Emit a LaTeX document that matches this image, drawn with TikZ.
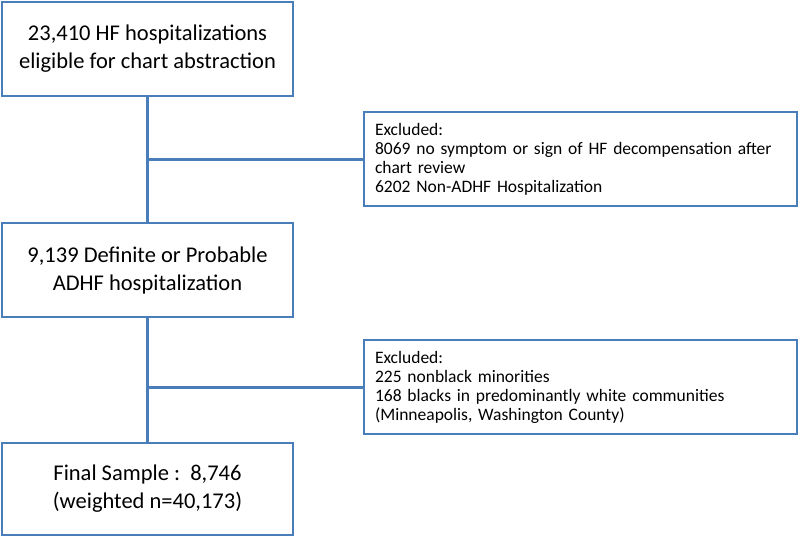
\documentclass[tikz,border=0pt]{standalone}
\usepackage{fontspec}
\setmainfont{Carlito}
\definecolor{boxblue}{RGB}{74,126,187}
\begin{document}
\begin{tikzpicture}[x=1pt,y=-1pt,
  mainbox/.style={draw=boxblue,line width=2.5pt,minimum width=291pt,minimum height=94pt,align=center,
    font=\fontsize{22.5}{28}\selectfont,inner sep=0pt},
  exbox/.style={draw=boxblue,line width=2.5pt,minimum width=433pt,minimum height=94pt,
    text width=411pt,align=left,font=\fontsize{17.5}{19}\selectfont,inner sep=0pt},
  link/.style={draw=boxblue,line width=3pt}]
\useasboundingbox (0,0) rectangle (800,539);
\node[mainbox] (b1) at (147.5,49) {23,410 HF hospitalizations\\eligible for chart abstraction};
\node[mainbox] (b2) at (147.5,270) {9,139 Definite or Probable\\ADHF hospitalization};
\node[mainbox,minimum height=92pt] (b3) at (147.5,489) {Final Sample :\ \ 8,746\\(weighted n=40,173)};
\node[exbox] (e1) at (580.5,159) {Excluded:\\8069 no symptom or sign of HF decompensation after\\chart review\\6202 Non-ADHF Hospitalization};
\node[exbox] (e2) at (580.5,387) {Excluded:\\225 nonblack minorities\\168 blacks in predominantly white communities\\(Minneapolis, Washington County)};
\coordinate (j1) at (b1.south |- e1.west);
\coordinate (j2) at (b2.south |- e2.west);
\draw[link] (b1.south) -- (b2.north);
\draw[link] (b2.south) -- (b3.north);
\draw[link] (j1) -- (e1.west);
\draw[link] (j2) -- (e2.west);
\end{tikzpicture}
\end{document}
